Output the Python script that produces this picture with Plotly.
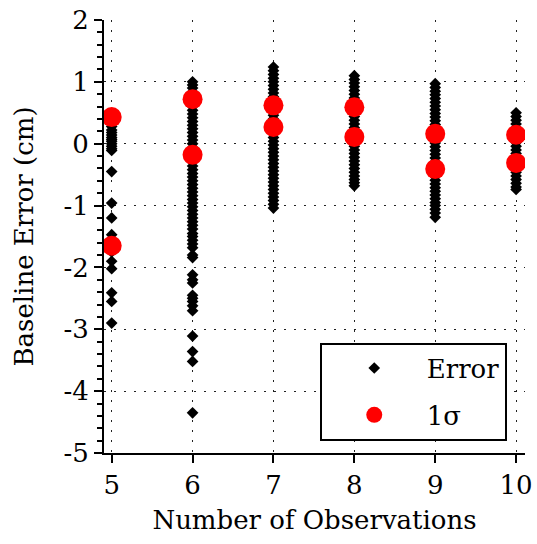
import plotly.graph_objects as go

# ---- data ----
obs_counts = [5, 6, 7, 8, 9, 10]

err_5 = [0.35, 0.28, 0.22, 0.18, 0.14, 0.10, 0.07, 0.04, 0.0, -0.04, -0.08, -0.11,
         -0.45, -0.96, -1.20, -1.47, -1.60, -1.75, -1.90, -2.02, -2.41, -2.55, -2.90]
err_6 = [1.00, 0.95, 0.90, 0.84, 0.78, 0.72, 0.66, 0.60, 0.54, 0.48, 0.42, 0.36, 0.30,
         0.24, 0.18, 0.12, 0.06, 0.0, -0.06, -0.12, -0.18, -0.24, -0.30, -0.36, -0.42,
         -0.48, -0.54, -0.60, -0.66, -0.72, -0.78, -0.84, -0.90, -0.96, -1.02, -1.08,
         -1.14, -1.20, -1.26, -1.32, -1.38, -1.45, -1.50, -1.56, -1.62, -1.68, -1.80,
         -1.84, -2.12, -2.20, -2.25, -2.45, -2.50, -2.55, -2.62, -2.70, -3.11, -3.36,
         -3.52, -4.35]
err_7 = [1.24, 1.18, 1.12, 1.06, 1.00, 0.94, 0.88, 0.82, 0.76, 0.70, 0.64, 0.58, 0.52,
         0.46, 0.40, 0.34, 0.28, 0.22, 0.16, 0.10, 0.04, -0.02, -0.08, -0.14, -0.20,
         -0.26, -0.32, -0.38, -0.44, -0.50, -0.56, -0.62, -0.68, -0.74, -0.80, -0.86,
         -0.92, -0.98, -1.04]
err_8 = [1.10, 1.04, 0.98, 0.92, 0.86, 0.80, 0.74, 0.68, 0.62, 0.56, 0.50, 0.44, 0.38,
         0.32, 0.26, 0.20, 0.14, 0.08, 0.02, -0.04, -0.10, -0.16, -0.22, -0.28, -0.34,
         -0.40, -0.46, -0.52, -0.58, -0.63, -0.68]
err_9 = [0.97, 0.91, 0.85, 0.79, 0.73, 0.67, 0.61, 0.55, 0.49, 0.43, 0.37, 0.31, 0.25,
         0.19, 0.13, 0.07, 0.01, -0.05, -0.11, -0.17, -0.23, -0.29, -0.35, -0.41, -0.47,
         -0.53, -0.59, -0.65, -0.71, -0.77, -0.83, -0.89, -0.95, -1.00, -1.06, -1.12,
         -1.19]
err_10 = [0.50, 0.44, 0.38, 0.32, 0.26, 0.20, 0.14, 0.08, 0.02, -0.04, -0.10, -0.16,
          -0.22, -0.28, -0.34, -0.40, -0.46, -0.52, -0.58, -0.64, -0.70, -0.74]
errors_by_count = [err_5, err_6, err_7, err_8, err_9, err_10]

sigma_hi = [0.43, 0.72, 0.62, 0.59, 0.16, 0.145]
sigma_lo = [-1.65, -0.18, 0.27, 0.11, -0.41, -0.31]

y_ticks = [2, 1, 0, -1, -2, -3, -4, -5]
y_tick_labels = ["2", "1", "0", "-1", "-2", "-3", "-4", "-5"]
x_tick_labels = ["5", "6", "7", "8", "9", "10"]

# ---- build ----
err_x, err_y = [], []
for n, vals in zip(obs_counts, errors_by_count):
    err_x += [n] * len(vals)
    err_y += vals

sig_x = obs_counts + obs_counts
sig_y = sigma_hi + sigma_lo

FONT = "DejaVu Serif"
FS = 26

fig = go.Figure()
fig.add_trace(go.Scatter(
    x=err_x, y=err_y, mode="markers", name="Error", legendgroup="a",
    marker=dict(symbol="diamond", size=9, color="black"),
))
fig.add_trace(go.Scatter(
    x=sig_x, y=sig_y, mode="markers", name="1σ", legendgroup="b",
    marker=dict(symbol="circle", size=20, color="#ff0000"),
))

grid = dict(showgrid=True, gridcolor="#222", gridwidth=1.2, griddash="2px,8px")

fig.update_xaxes(
    range=[4.905, 10.11], tickvals=obs_counts, ticktext=x_tick_labels,
    ticks="outside", ticklen=8, automargin=False,
    tickwidth=2, tickcolor="black", showline=True, linecolor="black", linewidth=2,
    zeroline=False, tickfont=dict(family=FONT, size=FS, color="black"),
    title=dict(text="Number of Observations", font=dict(family=FONT, size=FS, color="black"),
               standoff=12),
    **grid,
)
fig.update_yaxes(
    range=[-5, 2], tickvals=y_ticks, ticktext=y_tick_labels,
    ticks="outside", ticklen=8, tickwidth=2, automargin=False,
    tickcolor="black", showline=True, linecolor="black", linewidth=2, zeroline=False,
    tickfont=dict(family=FONT, size=FS, color="black"),
    minor=dict(dtick=0.2, tick0=0, ticks="outside", ticklen=5, tickwidth=1.5,
               tickcolor="black", showgrid=False),
    title=dict(text="Baseline Error (cm)", font=dict(family=FONT, size=FS, color="black"),
               standoff=22),
    **grid,
)

fig.update_layout(
    width=537, height=544,
    margin=dict(l=104, r=12, t=20, b=91),
    paper_bgcolor="white", plot_bgcolor="white",
    showlegend=True,
    legend=dict(
        x=0.5125, y=0.255, xanchor="left", yanchor="top",
        bgcolor="white", bordercolor="black", borderwidth=2,
        font=dict(family=FONT, size=FS, color="black"),
        itemwidth=95, tracegroupgap=10, entrywidth=185,
    ),
)

fig.write_html("out.html")
